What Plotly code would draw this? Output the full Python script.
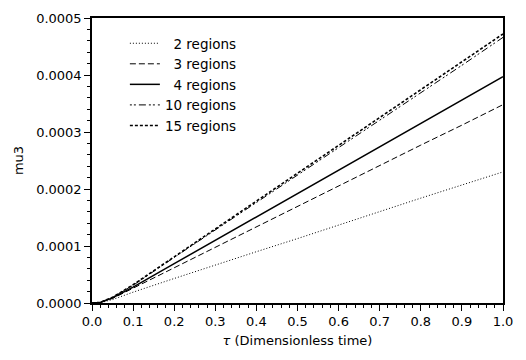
import plotly.graph_objects as go

tau = [0.0, 0.02, 0.05, 0.1, 0.2, 0.3, 0.4, 0.5, 0.6, 0.7, 0.8, 0.9, 1.0]
mu3_2 = [0.0, 0.0000005, 0.000006, 0.000019, 0.000043, 0.000067, 0.000090, 0.000113, 0.000137, 0.000160, 0.000184, 0.000207, 0.000230]
mu3_3 = [0.0, 0.000001, 0.000008, 0.000026, 0.000062, 0.000098, 0.000134, 0.000170, 0.000205, 0.000241, 0.000277, 0.000312, 0.000348]
mu3_4 = [0.0, 0.000001, 0.000009, 0.000028, 0.000069, 0.000110, 0.000151, 0.000192, 0.000233, 0.000274, 0.000315, 0.000356, 0.000397]
mu3_10 = [0.0, 0.000001, 0.000010, 0.000031, 0.000080, 0.000128, 0.000176, 0.000224, 0.000272, 0.000321, 0.000369, 0.000417, 0.000466]
mu3_15 = [0.0, 0.000001, 0.000010, 0.000032, 0.000081, 0.000130, 0.000178, 0.000227, 0.000276, 0.000325, 0.000374, 0.000423, 0.000472]

labels = ["\u20072 regions", "\u20073 regions", "\u20074 regions", "10 regions", "15 regions"]
series = [mu3_2, mu3_3, mu3_4, mu3_10, mu3_15]
dashes = ["1px,2px", "6px,3px", "solid", "2px,2px,2px,3px,7px,3px", "3px,2px"]
widths = [1, 1, 1.5, 1, 1.6]

fig = go.Figure()
for lab, ys, d, w in zip(labels, series, dashes, widths):
    fig.add_trace(go.Scatter(x=tau, y=ys, mode="lines", name=lab,
                             line=dict(color="black", dash=d, width=w)))

font = dict(family="DejaVu Sans", size=13, color="black")
lfont = dict(family="DejaVu Sans", size=13.5, color="black")
fig.update_layout(
    width=526, height=360,
    margin=dict(l=92, r=23, t=11, b=57),
    paper_bgcolor="white", plot_bgcolor="white",
    font=font,
    showlegend=True,
    legend=dict(x=0.08, y=0.965, xanchor="left", yanchor="top",
                bgcolor="rgba(0,0,0,0)", font=lfont, tracegroupgap=0),
)
fig.update_xaxes(
    range=[0, 1.0], tickmode="linear", tick0=0, dtick=0.1, tickformat=".1f",
    ticks="outside", ticklen=6, tickcolor="black", tickwidth=1,
    minor=dict(dtick=0.02, ticks="outside", ticklen=3, tickcolor="black"),
    showline=True, linecolor="black", linewidth=1.5, mirror=True,
    showgrid=False, zeroline=False,
    title=dict(text="<i>τ</i> (Dimensionless time)", font=font, standoff=8),
)
fig.update_yaxes(
    range=[0, 0.0005], tickmode="linear", tick0=0, dtick=0.0001, tickformat=".4f",
    ticks="outside", ticklen=6, tickcolor="black", tickwidth=1,
    minor=dict(dtick=0.00002, ticks="outside", ticklen=3, tickcolor="black"),
    showline=True, linecolor="black", linewidth=1.5, mirror=True,
    showgrid=False, zeroline=False,
    title=dict(text="mu3", font=font, standoff=10),
)
fig.write_html("out.html")
